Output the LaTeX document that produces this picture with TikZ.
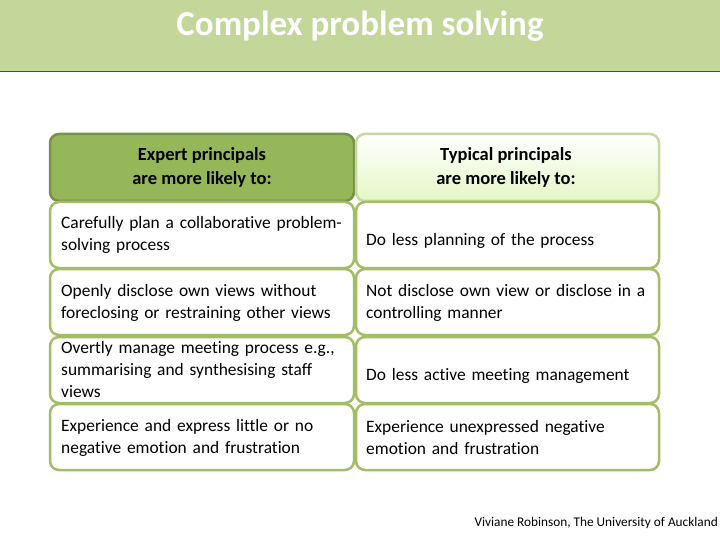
\documentclass[tikz,border=0pt]{standalone}
\usepackage{fontspec}
\setmainfont{Carlito}[Ligatures=NoCommon]
\definecolor{bar}{HTML}{C4D79B}
\definecolor{gborder}{HTML}{A3BE62}
\definecolor{hdark}{HTML}{95B75A}
\definecolor{hlight}{HTML}{E4F7C6}
\begin{document}
\begin{tikzpicture}[x=1pt,y=-1pt,
  cell/.style={draw=gborder,line width=2.5pt,rounded corners=9pt,fill=white},
  txt/.style={font=\fontsize{17.4}{22}\selectfont,align=left,anchor=west,text width=295pt,inner sep=0pt},
  htxt/.style={font=\fontsize{18.5}{24}\selectfont\bfseries,align=center}]
\useasboundingbox (0,0) rectangle (720,540);
\fill[bar] (0,0) rectangle (720,72);
\draw[black!70,line width=1pt] (0,72) -- (720,72);
\node[text=white,font=\fontsize{35}{38}\selectfont\bfseries] (title) at (360,26) {Complex problem solving};
% header
\draw[cell,fill=hdark,draw=hdark!80!black] (50,134) rectangle (354,201);
\draw[cell,top color=white,bottom color=hlight,draw=gborder!60] (356,134) rectangle (659,201);
\node[htxt] (h1) at (202,167) {Expert principals\\are more likely to:};
\node[htxt] (h2) at (506,167) {Typical principals\\are more likely to:};
% rows
\foreach \t/\b in {202/268,269/335,337/403,404/470}{
  \draw[cell] (50,\t) rectangle (354,\b);
  \draw[cell] (356,\t) rectangle (659,\b);
}
\node[txt] (l1) at (61,235) {Carefully plan a collaborative problem-\\solving process};
\node[txt] (r1) at (366,241) {Do less planning of the process};
\node[txt] (l2) at (61,303) {Openly disclose own views without\\foreclosing or restraining other views};
\node[txt] (r2) at (366,303) {Not disclose own view or disclose in a\\controlling manner};
\node[txt] (l3) at (61,370) {Overtly manage meeting process e.g.,\\summarising and synthesising staff\\views};
\node[txt] (r3) at (366,376) {Do less active meeting management};
\node[txt] (l4) at (61,438) {Experience and express little or no\\negative emotion and frustration};
\node[txt] (r4) at (366,438) {Experience unexpressed negative\\emotion and frustration};
\node[anchor=east,font=\fontsize{13.3}{15}\selectfont,inner sep=1pt] (foot) at (719,523) {Viviane Robinson, The University of Auckland};
\end{tikzpicture}
\end{document}
